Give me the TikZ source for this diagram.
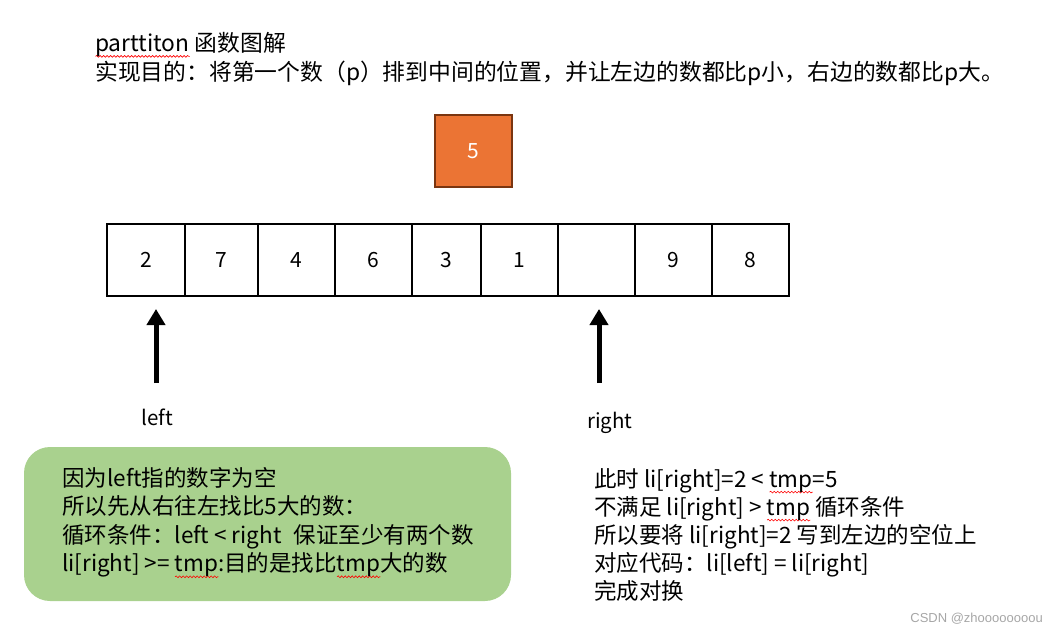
\documentclass[tikz,border=0pt]{standalone}
\usepackage{fontspec}
\setmainfont{Noto Sans CJK SC}
\newfontfamily\wmfont{Liberation Sans}
\usetikzlibrary{arrows.meta,decorations.pathmorphing}
\definecolor{orangefill}{HTML}{EB7434}
\definecolor{orangeline}{HTML}{7A3510}
\definecolor{greenfill}{HTML}{A9D18E}
\definecolor{wmgray}{HTML}{A6A6A6}
\newlength\sqlen
\newcommand\sqg[1]{\settowidth\sqlen{#1}\rlap{\tikz[baseline=0pt,x=1pt,y=1pt]\draw[red,line width=0.6pt,decorate,decoration={snake,amplitude=0.9pt,segment length=3.5pt}] (0,-5) -- (\sqlen,-5);}#1}
\begin{document}
\begin{tikzpicture}[x=1pt,y=-1pt,
  cellbox/.style={draw=black, line width=2.4pt, minimum height=72pt, inner sep=0pt, font=\fontsize{21}{21}\selectfont},
  txt/.style={inner sep=0pt, align=left, anchor=north west},
  ptr/.style={line width=5pt, -{Triangle[width=18pt,length=16pt]}},
  lbl/.style={inner sep=0pt, font=\fontsize{20.5}{20.5}\selectfont}]
\useasboundingbox (0,0) rectangle (1057,635);
% title
\node[txt, font=\fontsize{22.8}{29}\selectfont] (title) at (95,32)
  {\sqg{parttiton} 函数图解\\实现目的：将第一个数（p）排到中间的位置，并让左边的数都比p小，右边的数都比p大。};
% pivot
\node[draw=orangeline, fill=orangefill, line width=2pt, minimum width=77pt, minimum height=72pt, inner sep=0pt,
  text=white, font=\fontsize{21}{21}\selectfont] (pivot) at (473.5,151) {5};
% cells
\node[cellbox, minimum width=78pt] (c1) at (146,260) {2};
\node[cellbox, minimum width=73pt] (c2) at (221.5,260) {7};
\node[cellbox, minimum width=77pt] (c3) at (296.5,260) {4};
\node[cellbox, minimum width=77pt] (c4) at (373.5,260) {6};
\node[cellbox, minimum width=69pt] (c5) at (446.5,260) {3};
\node[cellbox, minimum width=77pt] (c6) at (519.5,260) {1};
\node[cellbox, minimum width=77pt] (c7) at (596.5,260) {};
\node[cellbox, minimum width=77pt] (c8) at (673.5,260) {9};
\node[cellbox, minimum width=77pt] (c9) at (750.5,260) {8};
% pointers
\coordinate (lfrom) at (156,383);
\coordinate (lto) at (156,309);
\coordinate (rfrom) at (599,383);
\coordinate (rto) at (599,309);
\draw[ptr] (lfrom) -- (lto);
\draw[ptr] (rfrom) -- (rto);
\node[lbl] (leftlbl) at (157,417) {left};
\node[lbl] (rightlbl) at (610,423) {right};
% green box
\node[fill=greenfill, rounded corners=26pt, minimum width=487pt, minimum height=154pt, inner sep=0pt] (gbox) at (267.5,524) {};
\node[txt, font=\fontsize{22.5}{28.5}\selectfont] (gtext) at (62,467)
  {因为left指的数字为空\\所以先从右往左找比5大的数：\\循环条件：left\ <\ right\hspace{12pt}保证至少有两个数\\li[right] >= \sqg{tmp}:目的是找比\sqg{tmp}大的数};
% right text
\node[txt, font=\fontsize{22.5}{28}\selectfont] (rtext) at (594,468)
  {此时 li[right]=2\ <\ \sqg{tmp}=5\\不满足 li[right] > \sqg{tmp} 循环条件\\所以要将 li[right]=2 写到左边的空位上\\对应代码：li[left] = li[right]\\完成对换};
% watermark
\node[inner sep=0pt, anchor=east, text=wmgray, font=\wmfont\fontsize{13}{13}\selectfont] (wm) at (1043,619) {CSDN @zhoooooooou};
\end{tikzpicture}
\end{document}
